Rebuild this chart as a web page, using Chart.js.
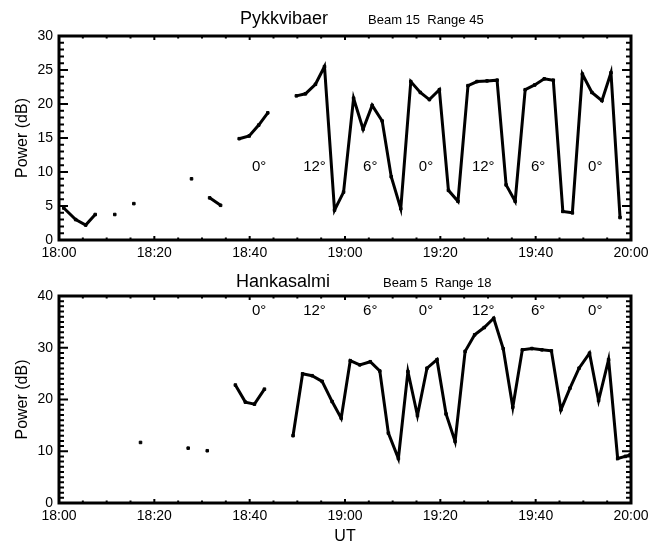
<!DOCTYPE html>
<html>
<head>
<meta charset="utf-8">
<script src="https://cdn.jsdelivr.net/npm/chart.js@4.4.1/dist/chart.umd.min.js"></script>
<style>
  body { margin: 0; background: #fff; }
  #wrap { position: relative; width: 666px; height: 546px; }
  canvas { position: absolute; left: 0; }
</style>
</head>
<body>
<div id="wrap">
  <canvas id="pykChart" width="666" height="268" style="top:0"></canvas>
  <canvas id="hanChart" width="666" height="278" style="top:268px"></canvas>
</div>
<script>
// minutes after 18:00 UT
const pykTime = [1.0, 3.5, 5.6, 7.6, 9.7, 11.7, 13.7, 15.7, 17.7, 27.8, 29.7, 31.6, 33.9, 35.9, 37.8, 39.9, 41.9, 43.8, 46.0,
  49.8, 51.7, 53.8, 55.7, 57.8, 59.7, 61.8, 63.8, 65.7, 67.8, 69.7, 71.7, 73.8, 75.8, 77.7, 79.8, 81.7, 83.7, 85.8, 87.7,
  89.8, 91.9, 93.8, 95.7, 97.8, 99.8, 101.8, 103.7, 105.7, 107.7, 109.8, 111.8, 113.9, 115.8, 117.7];
const pykPower = [4.7, 3.0, 2.2, 3.75, null, 3.75, null, 5.35, null, 9.0, null, 6.2, 5.1, null, 14.9, 15.3, 16.9, 18.7, null,
  21.2, 21.5, 22.9, 25.5, 4.4, 7.05, 20.85, 16.3, 19.8, 17.5, 9.3, 4.6, 23.3, 21.7, 20.65, 22.1, 7.3, 5.7, 22.7, 23.3,
  23.4, 23.5, 8.1, 5.7, 22.1, 22.8, 23.7, 23.5, 4.2, 4.0, 24.4, 21.7, 20.5, 24.6, 3.3];

const hanTime = [17.1, 19.1, 27.1, 29.1, 31.1, 33.1, 37.0, 39.1, 41.0, 43.1, 45.1, 49.1, 51.1, 53.1, 55.2, 57.3, 59.2,
  61.1, 63.1, 65.3, 67.3, 69.1, 71.2, 73.2, 75.2, 77.2, 79.3, 81.2, 83.1, 85.2, 87.2, 89.2, 91.2, 93.2, 95.2, 97.2,
  99.2, 101.3, 103.3, 105.3, 107.2, 109.1, 111.3, 113.2, 115.3, 117.2, 118.8, 119.8];
const hanPower = [11.7, null, 10.6, null, 10.1, null, 22.8, 19.5, 19.1, 22.0, null, 13.0, 24.95, 24.6, 23.5, 19.6, 16.4,
  27.5, 26.7, 27.3, 25.5, 13.5, 8.6, 25.4, 16.9, 26.05, 27.7, 17.2, 11.9, 29.3, 32.5, 33.9, 35.7, 29.8, 18.5, 29.6,
  29.85, 29.6, 29.4, 18.0, 22.2, 26.05, 28.95, 19.8, 27.7, 8.6, 9.0, 9.3];

// elevation angle labels
const angleText = ['0°', '12°', '6°', '0°', '12°', '6°', '0°'];
const angleTime = [42, 53.6, 65.3, 77, 89, 100.5, 112.5];

const xTicks = [0, 20, 40, 60, 80, 100, 120];

Chart.defaults.font.family = '"Liberation Sans", Arial, sans-serif';
Chart.defaults.color = '#000';

function fmtTime(v) {
  const h = 18 + Math.floor(v / 60), m = v % 60;
  return h + ':' + (m < 10 ? '0' : '') + m;
}

// IDL-style frame with inward ticks, panel title and angle labels
const framePlugin = {
  id: 'frame',
  afterDraw(chart, args, opts) {
    const ctx = chart.ctx, a = chart.chartArea;
    const x = chart.scales.x, y = chart.scales.y;
    ctx.save();
    ctx.strokeStyle = '#000';
    ctx.lineWidth = 3;
    ctx.strokeRect(a.left, a.top, a.right - a.left, a.bottom - a.top);
    ctx.lineWidth = 2;
    ctx.beginPath();
    for (let v = y.min; v <= y.max; v += 1) {
      const py = y.getPixelForValue(v);
      const len = v % opts.major === 0 ? 9 : 5;
      ctx.moveTo(a.left, py); ctx.lineTo(a.left + len, py);
      ctx.moveTo(a.right, py); ctx.lineTo(a.right - len, py);
    }
    for (let v = 0; v <= 120; v += 5) {
      const px = x.getPixelForValue(v);
      const len = v % 20 === 0 ? 4 : 2.5;
      ctx.moveTo(px, a.bottom); ctx.lineTo(px, a.bottom - len);
      ctx.moveTo(px, a.top); ctx.lineTo(px, a.top + len);
    }
    ctx.stroke();

    ctx.fillStyle = '#000';
    ctx.textBaseline = 'alphabetic';
    ctx.textAlign = 'left';
    ctx.font = '18px "Liberation Sans", Arial, sans-serif';
    ctx.fillText(opts.station, opts.titleX, opts.titleY);
    ctx.font = '13px "Liberation Sans", Arial, sans-serif';
    ctx.fillText(opts.sub, opts.subX, opts.titleY);

    ctx.font = '15px "Liberation Sans", Arial, sans-serif';
    ctx.textAlign = 'center';
    ctx.textBaseline = 'middle';
    angleTime.forEach((t, i) => {
      ctx.fillText(angleText[i], x.getPixelForValue(t), y.getPixelForValue(opts.angleY));
    });
    ctx.restore();
  }
};

function makeChart(id, times, power, yMax, yStep, frameOpts, xHeight, padTop, showUT) {
  return new Chart(document.getElementById(id), {
    type: 'line',
    data: {
      datasets: [{
        data: times.map((t, i) => ({ x: t, y: power[i] })),
        borderColor: '#000',
        backgroundColor: '#000',
        borderWidth: 3,
        pointRadius: 1.8,
        pointStyle: 'rect',
        pointBorderWidth: 1,
        spanGaps: false,
        tension: 0
      }]
    },
    options: {
      responsive: false,
      animation: false,
      layout: { padding: { top: padTop, right: 35, left: 0, bottom: 0 } },
      plugins: { legend: { display: false }, tooltip: { enabled: false }, frame: frameOpts },
      scales: {
        x: {
          type: 'linear', min: 0, max: 120,
          grid: { display: false, drawTicks: false },
          border: { display: false },
          afterBuildTicks: s => { s.ticks = xTicks.map(v => ({ value: v })); },
          afterFit: s => { s.height = xHeight; },
          ticks: { font: { size: 14 }, padding: 5, maxRotation: 0, autoSkip: false, callback: v => fmtTime(v) },
          title: { display: showUT, text: 'UT', font: { size: 16 }, padding: 0 }
        },
        y: {
          min: 0, max: yMax,
          grid: { display: false, drawTicks: false },
          border: { display: false },
          afterFit: s => { s.width = 59; },
          ticks: { stepSize: yStep, font: { size: 14 }, padding: 6 },
          title: { display: true, text: 'Power (dB)', font: { size: 16 }, padding: { top: 13, bottom: 0 } }
        }
      }
    },
    plugins: [framePlugin]
  });
}

makeChart('pykChart', pykTime, pykPower, 30, 5,
  { major: 5, station: 'Pykkvibaer', sub: 'Beam 15  Range 45', titleX: 240, subX: 368, titleY: 24, angleY: 10.75 },
  28, 36, false);

makeChart('hanChart', hanTime, hanPower, 40, 10,
  { major: 10, station: 'Hankasalmi', sub: 'Beam 5  Range 18', titleX: 236, subX: 383, titleY: 19, angleY: 37.1 },
  43, 28, true);
</script>
</body>
</html>
